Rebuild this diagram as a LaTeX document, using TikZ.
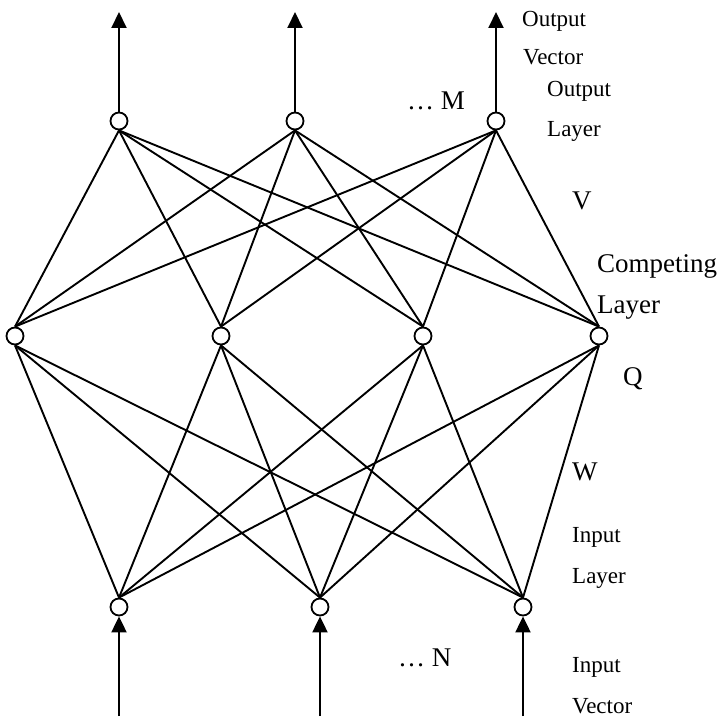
\documentclass[tikz,border=0pt]{standalone}
\usepackage{fontspec}
\setmainfont{Liberation Serif}
\usetikzlibrary{arrows.meta}
\tikzset{
 unit/.style={circle,draw=black,line width=1.8pt,fill=white,minimum size=17pt,inner sep=0pt},
 link/.style={line width=1.9pt,draw=black},
 arrow/.style={-{Triangle[length=16pt,width=15pt]},line width=2pt,draw=black},
 lbl/.style={anchor=base west,inner sep=0pt,font=\fontsize{23}{27}\selectfont},
 biglbl/.style={anchor=base west,inner sep=0pt,font=\fontsize{27}{32}\selectfont}
}
\begin{document}
\begin{tikzpicture}[x=1pt,y=-1pt]
 \useasboundingbox (0,0) rectangle (721,722);
 % output layer
 \node[unit] (o1) at (119,121) {};
 \node[unit] (o2) at (295,121) {};
 \node[unit] (o3) at (496,121) {};
 % competing layer
 \node[unit] (c1) at (15,336) {};
 \node[unit] (c2) at (221,336) {};
 \node[unit] (c3) at (423,336) {};
 \node[unit] (c4) at (599,336) {};
 % input layer
 \node[unit] (i1) at (119,607) {};
 \node[unit] (i2) at (320,607) {};
 \node[unit] (i3) at (523,607) {};
 % free ends of the vectors
 \coordinate (out1) at (119,12);
 \coordinate (out2) at (295,12);
 \coordinate (out3) at (496,12);
 \coordinate (in1) at (119,716);
 \coordinate (in2) at (320,716);
 \coordinate (in3) at (523,716);
 % weights
 \foreach \o in {o1,o2,o3}
  \foreach \c in {c1,c2,c3,c4}
   \draw[link] (\o.south) -- (\c.north);
 \foreach \c in {c1,c2,c3,c4}
  \foreach \i in {i1,i2,i3}
   \draw[link] (\c.south) -- (\i.north);
 \foreach \k in {1,2,3} {
  \draw[arrow] (o\k.north) -- (out\k);
  \draw[arrow] (in\k) -- (i\k.south);
 }
 % labels
 \node[lbl] (outvec1) at (522,27) {Output};
 \node[lbl] (outvec2) at (523,65) {Vector};
 \node[lbl] (outlay1) at (547,97) {Output};
 \node[lbl] (outlay2) at (547,137) {Layer};
 \node[biglbl] (m) at (407,110) {\dots\ M};
 \node[biglbl] (v) at (572,209) {V};
 \node[biglbl] (comp1) at (597,272) {Competing};
 \node[biglbl] (comp2) at (597,313) {Layer};
 \node[biglbl] (q) at (623,385) {Q};
 \node[biglbl] (w) at (572,480) {W};
 \node[lbl] (inlay1) at (572,542) {Input};
 \node[lbl] (inlay2) at (572,583) {Layer};
 \node[biglbl] (n) at (398,666) {\dots\ N};
 \node[lbl] (invec1) at (572,672) {Input};
 \node[lbl] (invec2) at (572,713) {Vector};
\end{tikzpicture}
\end{document}
